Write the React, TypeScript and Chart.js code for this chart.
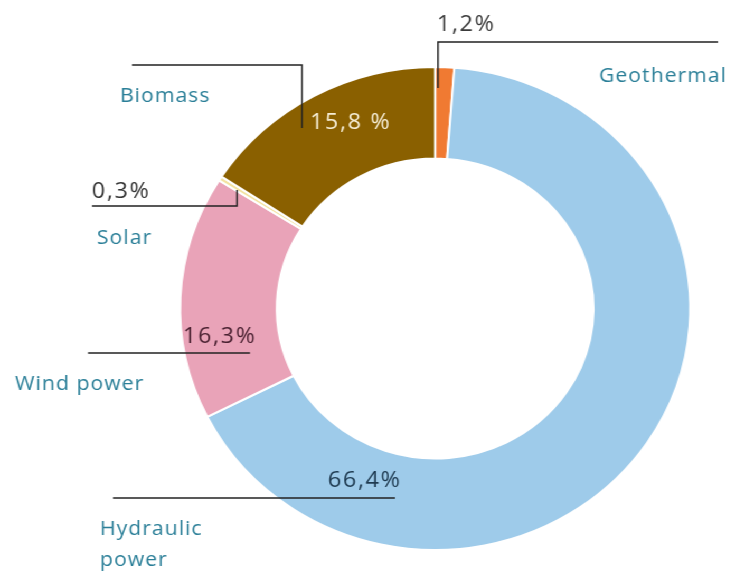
import React, { useEffect, useRef } from "react";
import { Chart, registerables } from "chart.js";

Chart.register(...registerables);

// ---- data ----
const categories = ["Geothermal", "Hydraulic power", "Wind power", "Solar", "Biomass"];
const shares = [1.2, 66.4, 16.3, 0.3, 15.8];
const shareLabels = ["1,2%", "66,4%", "16,3%", "0,3%", "15,8 %"];
const labelLines = [["Geothermal"], ["Hydraulic", "power"], ["Wind power"], ["Solar"], ["Biomass"]];
const sliceColors = ["#f07a32", "#9ecbea", "#e9a3b8", "#f3e3a0", "#8a6000"];

// the original picture is slightly stretched horizontally
const SX = 1.056;
const W = 731 / SX;
const H = 571;

// annotation layout, in screen pixels
const annotations = [
  { name: [599, 76], pct: [437, 25], pctColor: "#3a3a3a", line: [[438, 88], [438, 42], [718, 42]] },
  { name: [100, 529], pct: [328, 481], pctColor: "#1e3a50", line: [[113, 498], [395, 498]] },
  { name: [15, 384], pct: [183, 337], pctColor: "#4b2232", line: [[88, 353], [250, 353]] },
  { name: [97, 238], pct: [92, 192], pctColor: "#333333", line: [[92, 206], [237, 206], [237, 190]] },
  { name: [120, 96], pct: [310, 123], pctColor: "#f6eed6", line: [[132, 65], [302, 65], [302, 128]] },
];

const labelPlugin = {
  id: "leaderLabels",
  afterDraw(chart: any) {
    const ctx = chart.ctx as CanvasRenderingContext2D;
    ctx.save();
    ctx.strokeStyle = "#222222";
    ctx.lineWidth = 1.5;
    annotations.forEach((a) => {
      ctx.beginPath();
      a.line.forEach((p, i) => {
        const x = p[0] / SX;
        const y = p[1];
        if (i === 0) ctx.moveTo(x, y);
        else ctx.lineTo(x, y);
      });
      ctx.stroke();
    });
    ctx.textAlign = "left";
    ctx.textBaseline = "middle";
    annotations.forEach((a, i) => {
      ctx.font = '20px "Open Sans", "DejaVu Sans", sans-serif';
      (ctx as any).letterSpacing = "1px";
      ctx.fillStyle = "#2b7f98";
      labelLines[i].forEach((t, j) => {
        ctx.fillText(t, a.name[0] / SX, a.name[1] + j * 31);
      });
      ctx.font = '22px "Open Sans", "DejaVu Sans", sans-serif';
      (ctx as any).letterSpacing = "1.6px";
      ctx.fillStyle = a.pctColor;
      ctx.fillText(shareLabels[i], a.pct[0] / SX, a.pct[1]);
    });
    ctx.restore();
  },
};

export default function App() {
  const ref = useRef<HTMLCanvasElement | null>(null);
  useEffect(() => {
    if (!ref.current) return;
    const chart = new Chart(ref.current, {
      type: "doughnut",
      data: {
        labels: categories,
        datasets: [
          {
            data: shares,
            backgroundColor: sliceColors,
            borderColor: "#ffffff",
            borderWidth: 2,
          },
        ],
      },
      options: {
        animation: false,
        responsive: true,
        maintainAspectRatio: false,
        radius: 241.5,
        cutout: "62.1%",
        rotation: 0,
        layout: { padding: { left: 132, right: 0, top: 46, bottom: 0 } },
        plugins: {
          legend: { display: false },
          tooltip: { enabled: false },
          title: { display: false },
        },
      } as any,
      plugins: [labelPlugin],
    });
    return () => chart.destroy();
  }, []);
  return (
    <div
      style={{
        position: "fixed",
        left: 0,
        top: 0,
        width: W,
        height: H,
        transform: `scaleX(${SX})`,
        transformOrigin: "0 0",
        background: "#ffffff",
      }}
    >
      <canvas ref={ref} />
    </div>
  );
}
